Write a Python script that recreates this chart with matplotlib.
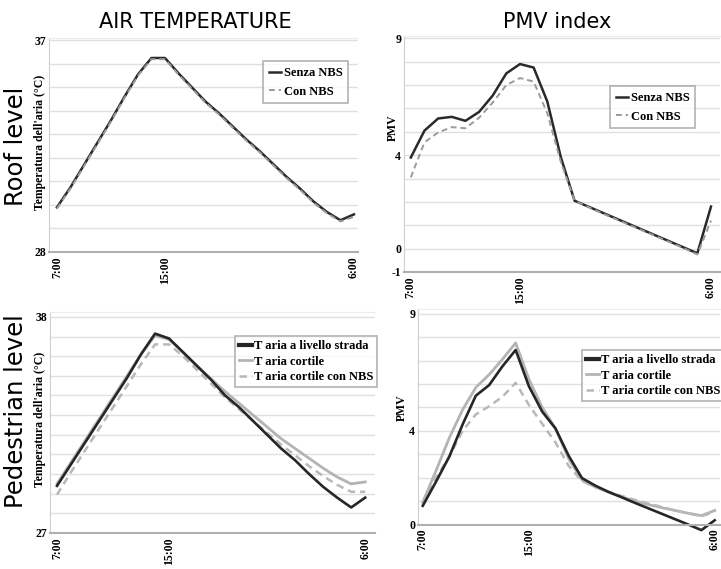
import matplotlib.pyplot as plt
import numpy as np

# time axis (category index), labelled only at 7:00, 15:00, 6:00
tick_pos = [0, 8, 22]
tick_lab = ["7:00", "15:00", "6:00"]

# roof level - air temperature
roof_temp_senza = [29.9, 30.75, 31.7, 32.65, 33.6, 34.6, 35.55, 36.25, 36.25, 35.6, 35.0, 34.4,
                   33.9, 33.35, 32.8, 32.3, 31.75, 31.2, 30.7, 30.15, 29.7, 29.35, 29.6]
roof_temp_con = [29.85, 30.7, 31.65, 32.6, 33.55, 34.55, 35.5, 36.2, 36.2, 35.55, 34.95, 34.35,
                 33.85, 33.3, 32.75, 32.25, 31.7, 31.15, 30.65, 30.1, 29.65, 29.3, 29.5]

# roof level - PMV
roof_pmv_senza = [3.9, 5.05, 5.57, 5.64, 5.47, 5.85, 6.55, 7.5, 7.9, 7.75, 6.3, 3.9,
                  2.05, 1.8, 1.55, 1.3, 1.05, 0.8, 0.55, 0.3, 0.05, -0.2, 1.8]
roof_pmv_con = [3.05, 4.55, 4.97, 5.2, 5.15, 5.6, 6.25, 7.0, 7.3, 7.15, 5.8, 3.7,
                2.05, 1.78, 1.52, 1.27, 1.02, 0.77, 0.52, 0.27, 0.02, -0.25, 1.2]

# pedestrian level - air temperature
ped_temp_strada = [29.4, 30.5, 31.6, 32.7, 33.8, 34.9, 36.1, 37.15, 36.9, 36.2, 35.5, 34.8,
                   34.0, 33.4, 32.7, 32.0, 31.3, 30.7, 30.0, 29.35, 28.8, 28.3, 28.8]
ped_temp_cortile = [29.5, 30.6, 31.7, 32.8, 33.9, 35.0, 36.1, 37.05, 36.85, 36.2, 35.5, 34.85,
                    34.2, 33.6, 33.0, 32.4, 31.8, 31.3, 30.8, 30.3, 29.85, 29.5, 29.6]
ped_temp_cortile_nbs = [28.95, 30.1, 31.2, 32.3, 33.4, 34.5, 35.6, 36.6, 36.6, 36.0, 35.3, 34.6,
                        33.9, 33.3, 32.7, 32.1, 31.5, 30.95, 30.4, 29.9, 29.45, 29.1, 29.1]

# pedestrian level - PMV
ped_pmv_strada = [0.8, 1.83, 2.9, 4.27, 5.5, 5.95, 6.75, 7.45, 5.9, 4.82, 4.1, 2.93,
                  1.98, 1.66, 1.39, 1.16, 0.92, 0.69, 0.46, 0.23, 0.0, -0.24, 0.18]
ped_pmv_cortile = [0.95, 2.3, 3.7, 4.9, 5.85, 6.4, 7.05, 7.75, 6.2, 5.0, 4.1, 2.8,
                   1.9, 1.6, 1.38, 1.18, 1.0, 0.85, 0.72, 0.6, 0.48, 0.38, 0.6]
ped_pmv_cortile_nbs = [0.9, 2.0, 2.9, 4.0, 4.7, 5.05, 5.45, 6.05, 5.1, 4.3, 3.5, 2.5,
                       1.85, 1.6, 1.4, 1.22, 1.05, 0.9, 0.75, 0.6, 0.48, 0.35, 0.55]

W, H = 721, 569
serif = 'Liberation Serif'

fig = plt.figure(figsize=(W / 100, H / 100), dpi=100)


def box(l, t, r, b):
    return [l / W, 1 - b / H, (r - l) / W, (b - t) / H]


def style(ax, xlim, ylim, ylabs, ylabel, ylab_xy):
    ax.set_xlim(*xlim)
    ax.set_ylim(*ylim)
    ax.set_yticks(np.arange(np.ceil(ylim[0]), np.floor(ylim[1]) + 1), minor=True)
    ax.set_yticks(ylabs)
    ax.set_yticklabels([str(v) if v >= 0 else '-' + str(-v) for v in ylabs],
                       fontfamily=serif, fontweight='bold', fontsize=8.5)
    ax.set_xticks(tick_pos)
    ax.set_xticklabels(tick_lab, rotation=90, fontfamily=serif, fontweight='bold',
                       fontsize=8.5)
    ax.tick_params(which='both', length=0, pad=2)
    ax.tick_params(axis='x', pad=3)
    ax.grid(axis='y', which='both', color='#e0e0e0', linewidth=1)
    ax.set_axisbelow(True)
    ax.spines['right'].set_visible(False)
    ax.spines['top'].set_color('#ececec')
    ax.spines['left'].set_color('#cfcfcf')
    ax.spines['bottom'].set_color('#b0b0b0')
    ax.spines['bottom'].set_linewidth(1.5)
    fig.text(ylab_xy[0] / W, 1 - ylab_xy[1] / H, ylabel, rotation=90, ha='center',
             va='center', fontfamily=serif, fontweight='bold', fontsize=8.5)


def legend(ax, x, y):
    leg = ax.legend(loc='upper left', bbox_to_anchor=(x / W, 1 - y / H),
                    bbox_transform=fig.transFigure, fancybox=False, handlelength=1.0,
                    handletextpad=0.2, borderpad=0.45, labelspacing=0.55,
                    prop={'family': serif, 'weight': 'bold', 'size': 9})
    leg.get_frame().set_edgecolor('#a0a0a0')
    leg.get_frame().set_linewidth(1.2)


# top left
ax1 = fig.add_axes(box(49, 38, 358, 252))
x = np.arange(len(roof_temp_senza))
ax1.plot(x, roof_temp_senza, color='#2a2a2a', lw=1.8, label='Senza NBS')
ax1.plot(x, roof_temp_con, color='#9a9a9a', lw=1.4, ls=(0, (3, 2)), label='Con NBS')
style(ax1, (-0.59, 22.3), (28, 37.1), [28, 37], "Temperatura dell'aria (°C)", (40, 142))
legend(ax1, 257, 55)

# top right
ax2 = fig.add_axes(box(404, 36, 720, 272))
ax2.plot(x, roof_pmv_senza, color='#2a2a2a', lw=1.8, label='Senza NBS', clip_on=False)
ax2.plot(x, roof_pmv_con, color='#9a9a9a', lw=1.4, ls=(0, (3, 2)), label='Con NBS',
         clip_on=False)
style(ax2, (-0.5, 22.66), (-1, 9.1), [-1, 0, 4, 9], "PMV", (393, 128))
legend(ax2, 604, 80)

# bottom left
ax3 = fig.add_axes(box(50, 312, 375, 533))
ax3.plot(x, ped_temp_cortile, color='#b4b4b4', lw=2.0, label='T aria cortile')
ax3.plot(x, ped_temp_cortile_nbs, color='#b8b8b8', lw=1.8, ls=(0, (3, 2)),
         label='T aria cortile con NBS')
ax3.plot(x, ped_temp_strada, color='#262626', lw=1.9, label='T aria a livello strada')
style(ax3, (-0.5, 22.7), (27, 38.25), [27, 38], "Temperatura dell'aria (°C)", (40, 419))
leg_order = [2, 0, 1]

# bottom right
ax4 = fig.add_axes(box(418, 309, 720, 524.5))
ax4.plot(x, ped_pmv_cortile, color='#b4b4b4', lw=2.0, label='T aria cortile', clip_on=False)
ax4.plot(x, ped_pmv_cortile_nbs, color='#b8b8b8', lw=1.8, ls=(0, (3, 2)),
         label='T aria cortile con NBS', clip_on=False)
ax4.plot(x, ped_pmv_strada, color='#262626', lw=1.9, label='T aria a livello strada',
         clip_on=False)
style(ax4, (-0.36, 22.4), (0, 9.2), [0, 4, 9], "PMV", (402, 408))

for ax, (lx, ly) in [(ax3, (229, 330)), (ax4, (576, 344))]:
    h, l = ax.get_legend_handles_labels()
    leg = ax.legend([h[i] for i in leg_order], [l[i] for i in leg_order], loc='upper left',
                    bbox_to_anchor=(lx / W, 1 - ly / H), bbox_transform=fig.transFigure,
                    fancybox=False, handlelength=1.0, handletextpad=0.2, borderpad=0.3,
                    labelspacing=0.3, prop={'family': serif, 'weight': 'bold', 'size': 9})
    leg.get_frame().set_edgecolor('#a0a0a0')
    leg.get_frame().set_linewidth(1.2)
    leg.legend_handles[0].set_linewidth(3)

# column and row titles
fig.text(195 / W, 1 - 22 / H, 'AIR TEMPERATURE', ha='center', va='center', fontsize=15)
fig.text(557 / W, 1 - 22 / H, 'PMV index', ha='center', va='center', fontsize=15)
fig.text(16 / W, 1 - 146 / H, 'Roof level', rotation=90, ha='center', va='center',
         fontsize=17.5)
fig.text(16 / W, 1 - 411 / H, 'Pedestrian level', rotation=90, ha='center', va='center',
         fontsize=17.5)

fig.savefig('out.png', dpi=100)
